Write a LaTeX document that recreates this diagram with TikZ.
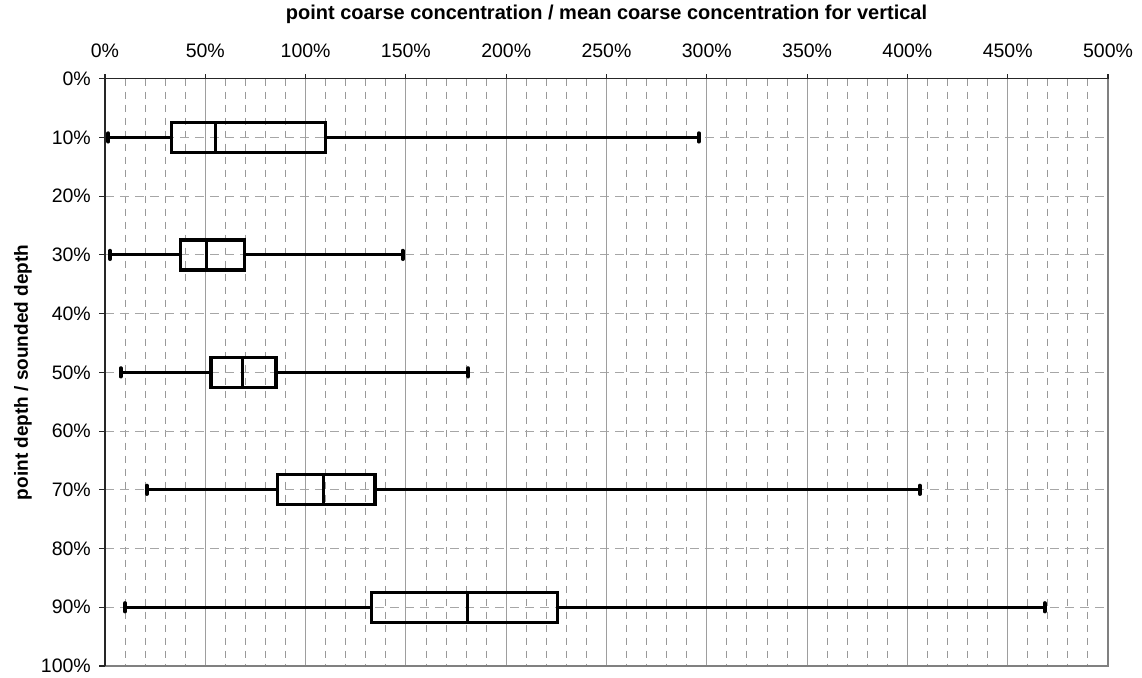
\documentclass[tikz,border=0pt]{standalone}
\usepackage{fontspec}
\setmainfont{Liberation Sans}
\newcommand\bxplot[6]{%
  \draw[whisker] (#2,#1) -- (#3,#1);
  \draw[whisker] (#5,#1) -- (#6,#1);
  \draw[capst] (#2,#1-0.72) -- (#2,#1+0.72);
  \draw[capst] (#6,#1-0.72) -- (#6,#1+0.72);
  \draw[boxst] (#3,#1-2.554) rectangle (#5,#1+2.554);
  \draw[boxst] (#4,#1-2.554) -- (#4,#1+2.554);
}
\begin{document}
\begin{tikzpicture}[x=2.006pt,y=-5.873pt,
  minorgrid/.style={draw=black!40, line width=0.9pt, dash pattern=on 7pt off 6pt},
  hgrid/.style={draw=black!35, line width=0.9pt, dash pattern=on 9pt off 6pt},
  majorgrid/.style={draw=black!38, line width=0.9pt},
  axisline/.style={draw=black!85, line width=1.1pt},
  border/.style={draw=black!50, line width=1.3pt},
  whisker/.style={draw=black, line width=2.9pt},
  boxst/.style={draw=black, line width=3.3pt},
  capst/.style={draw=black, line width=3.8pt, line cap=round},
  ticklbl/.style={font=\fontsize{19.5}{22}\selectfont, inner sep=0pt},
  ttl/.style={font=\bfseries\fontsize{20}{22}\selectfont, inner sep=0pt},
  ylbl/.style={font=\bfseries\fontsize{19}{22}\selectfont, inner sep=0pt}]
\useasboundingbox (-52.34,-13.40) rectangle (516.95,102.04);
% grid
\foreach \m in {0,50,...,450}
  \foreach \k in {10,20,30,40}
    \draw[minorgrid] (\m+\k,0) -- (\m+\k,100);
\foreach \q in {10,20,...,90}
  \draw[hgrid] (0,\q) -- (500,\q);
\foreach \m in {50,100,...,450}
  \draw[majorgrid] (\m,0) -- (\m,100);
% frame
\draw[border] (0,100) -- (500,100) -- (500,0);
\draw[axisline] (500,0) -- (0,0) -- (0,100);
\foreach \q in {0,10,...,100}
  \draw[axisline] (0,\q) -- ++(-6pt,0);
\foreach \m in {0,50,...,500}
  \draw[axisline] (\m,0) -- ++(0,5pt);
% labels
\foreach \m in {0,50,...,500}
  \node[ticklbl, anchor=base] (tx\m) at ([yshift=21.7pt]\m,0) {\m\%};
\foreach \q in {0,10,...,100}
  \node[ticklbl, anchor=east] (ty\q) at ([xshift=-14pt]0,\q) {\q\%};
\node[ttl, anchor=base] (title) at ([yshift=59.2pt]250,0)
  {point coarse concentration / mean coarse concentration for vertical};
\node[ylbl, anchor=base, rotate=90] (ylab) at ([xshift=-77pt]0,50)
  {point depth / sounded depth};
% box plots
\bxplot{10}{1.6}{33}{55}{110}{296}
\bxplot{30}{2.5}{37.6}{50.7}{69.4}{148.4}
\bxplot{50}{7.8}{52.9}{68.5}{85.2}{181}
\bxplot{70}{20.8}{86}{108.8}{134.6}{406.2}
\bxplot{90}{10}{133}{180.6}{225.7}{468.4}
\end{tikzpicture}
\end{document}
